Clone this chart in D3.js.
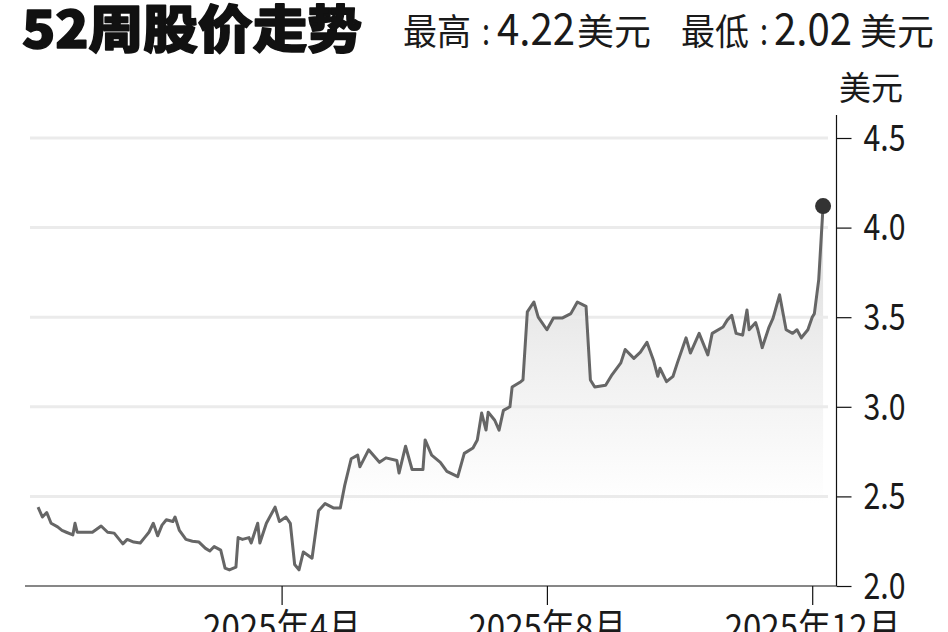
<!DOCTYPE html>
<html>
<head>
<meta charset="utf-8">
<script src="https://cdn.jsdelivr.net/npm/d3@7"></script>
<style>
  html, body { margin: 0; padding: 0; background: #ffffff; overflow: hidden; }
  svg { display: block; }
</style>
</head>
<body>
<svg id="chart" width="948" height="632"></svg>
<script>
// ---- data ----
const titleText = "52周股价走势";
const highParts = ["最高", ":", "4.22", "美元"];
const lowParts = ["最低", ":", "2.02", "美元"];
const unitText = "美元";

const dates = [
"2024-12-10","2024-12-12","2024-12-14","2024-12-16","2024-12-19","2024-12-21","2024-12-23","2024-12-26","2024-12-27","2024-12-28",
"2025-01-01","2025-01-04","2025-01-08","2025-01-11","2025-01-14","2025-01-18","2025-01-20","2025-01-23","2025-01-26","2025-01-28","2025-01-30",
"2025-02-01","2025-02-03","2025-02-05","2025-02-07","2025-02-10","2025-02-11","2025-02-13","2025-02-16","2025-02-19","2025-02-22","2025-02-25","2025-02-27",
"2025-03-01","2025-03-04","2025-03-06","2025-03-08","2025-03-11","2025-03-12","2025-03-14","2025-03-17","2025-03-18","2025-03-21","2025-03-22","2025-03-25","2025-03-29","2025-03-31",
"2025-04-03","2025-04-05","2025-04-07","2025-04-09","2025-04-11","2025-04-15","2025-04-18","2025-04-21","2025-04-25","2025-04-28","2025-04-30",
"2025-05-03","2025-05-06","2025-05-07","2025-05-11","2025-05-16","2025-05-19","2025-05-24","2025-05-25","2025-05-28","2025-05-31",
"2025-06-05","2025-06-06","2025-06-09","2025-06-13","2025-06-16","2025-06-21","2025-06-24","2025-06-28","2025-06-30",
"2025-07-02","2025-07-04","2025-07-05","2025-07-08","2025-07-10","2025-07-12","2025-07-15","2025-07-16","2025-07-20","2025-07-21","2025-07-23","2025-07-26","2025-07-28",
"2025-08-01","2025-08-04","2025-08-08","2025-08-12","2025-08-15","2025-08-19","2025-08-21","2025-08-23","2025-08-28","2025-08-31",
"2025-09-04","2025-09-06","2025-09-10","2025-09-13","2025-09-16","2025-09-19","2025-09-21","2025-09-22","2025-09-25","2025-09-28","2025-09-30",
"2025-10-04","2025-10-06","2025-10-10","2025-10-14","2025-10-16","2025-10-21","2025-10-23","2025-10-25","2025-10-27","2025-10-30",
"2025-11-01","2025-11-02","2025-11-05","2025-11-06","2025-11-08","2025-11-11","2025-11-13","2025-11-16","2025-11-19","2025-11-22","2025-11-24","2025-11-26","2025-11-29",
"2025-12-01","2025-12-02","2025-12-04","2025-12-06"
];

const prices = [
2.44,2.385,2.41,2.35,2.33,2.31,2.30,2.285,2.35,2.30,
2.30,2.30,2.335,2.30,2.295,2.235,2.26,2.245,2.24,2.27,2.30,
2.35,2.28,2.34,2.37,2.36,2.385,2.31,2.26,2.25,2.245,2.21,2.195,
2.22,2.20,2.10,2.09,2.105,2.27,2.26,2.27,2.24,2.35,2.24,2.35,2.44,2.36,
2.385,2.35,2.12,2.09,2.19,2.155,2.42,2.46,2.435,2.435,2.56,
2.71,2.73,2.665,2.76,2.69,2.715,2.70,2.63,2.78,2.65,
2.65,2.815,2.73,2.69,2.64,2.61,2.74,2.77,2.815,
2.965,2.87,2.97,2.925,2.87,2.98,3.00,3.11,3.14,3.15,3.53,3.585,3.50,
3.43,3.495,3.495,3.52,3.585,3.56,3.15,3.11,3.12,3.18,
3.245,3.32,3.27,3.305,3.36,3.26,3.17,3.215,3.14,3.17,3.245,
3.385,3.30,3.41,3.29,3.41,3.445,3.485,3.51,3.41,3.40,
3.54,3.43,3.47,3.43,3.33,3.44,3.495,3.625,3.43,3.41,3.43,3.385,3.43,
3.50,3.52,3.71,4.12
];

const yTickValues = [2.0, 2.5, 3.0, 3.5, 4.0, 4.5];
const yTickLabels = ["2.0", "2.5", "3.0", "3.5", "4.0", "4.5"];
const xTickDates = ["2025-04-01", "2025-08-01", "2025-12-01"];
const xTickLabels = ["2025年4月", "2025年8月", "2025年12月"];

// ---- setup ----
const parse = d3.timeParse("%Y-%m-%d");
const data = dates.map((d, i) => ({ date: parse(d), value: prices[i] }));

const svg = d3.select("#chart");
const font = "'Noto Sans CJK SC', 'Liberation Sans', sans-serif";
const ink = "#1a1a1a";

const x = d3.scaleTime()
  .domain([parse("2024-12-04"), parse("2025-12-17")])
  .range([25, 847]);
const y = d3.scaleLinear().domain([2.0, 4.5]).range([586, 138]);

const axisX = 836.5;

// gradient for area
const defs = svg.append("defs");
const grad = defs.append("linearGradient")
  .attr("id", "areaGrad")
  .attr("gradientUnits", "userSpaceOnUse")
  .attr("x1", 0).attr("x2", 0)
  .attr("y1", y(4.1)).attr("y2", y(2.0));
grad.append("stop").attr("offset", "0%").attr("stop-color", "#dadada");
grad.append("stop").attr("offset", "40%").attr("stop-color", "#efefef");
grad.append("stop").attr("offset", "78%").attr("stop-color", "#ffffff");
grad.append("stop").attr("offset", "100%").attr("stop-color", "#ffffff");

// area
const area = d3.area()
  .x(d => x(d.date))
  .y0(y(2.0))
  .y1(d => y(d.value));
svg.append("path")
  .datum(data)
  .attr("d", area)
  .attr("fill", "url(#areaGrad)");

// gridlines
svg.append("g")
  .selectAll("line")
  .data(yTickValues.filter(v => v > 2.0))
  .join("line")
  .attr("x1", 30).attr("x2", 828)
  .attr("y1", d => y(d)).attr("y2", d => y(d))
  .attr("stroke", "#ebebeb")
  .attr("stroke-width", 3);

// line
const line = d3.line()
  .x(d => x(d.date))
  .y(d => y(d.value));
svg.append("path")
  .datum(data)
  .attr("d", line)
  .attr("fill", "none")
  .attr("stroke", "#666666")
  .attr("stroke-width", 3)
  .attr("stroke-linejoin", "round");

// end point
const last = data[data.length - 1];
svg.append("circle")
  .attr("cx", x(last.date))
  .attr("cy", y(last.value))
  .attr("r", 8)
  .attr("fill", "#333333");

// x axis
const xAxis = d3.axisBottom(x)
  .tickValues(xTickDates.map(parse))
  .tickSize(19)
  .tickFormat((d, i) => xTickLabels[i]);
const gx = svg.append("g").attr("transform", "translate(0,586)").call(xAxis);
gx.select(".domain").remove();
gx.selectAll(".tick line").attr("stroke", "#111").attr("stroke-width", 1.2);
gx.selectAll(".tick text")
  .attr("y", 55).attr("dy", 0)
  .attr("fill", ink)
  .attr("textLength", (d, i) => xTickLabels[i].length > 7 ? 176 : 158)
  .attr("lengthAdjust", "spacingAndGlyphs")
  .style("font-family", font)
  .style("font-size", "37px");
svg.append("line")
  .attr("x1", 25).attr("x2", axisX)
  .attr("y1", 586).attr("y2", 586)
  .attr("stroke", "#111").attr("stroke-width", 1.2);

// y axis
const yAxis = d3.axisRight(y)
  .tickValues(yTickValues)
  .tickSize(15)
  .tickPadding(12)
  .tickFormat((d, i) => yTickLabels[i]);
const gy = svg.append("g").attr("transform", `translate(${axisX},0)`).call(yAxis);
gy.select(".domain").remove();
gy.selectAll(".tick line").attr("stroke", "#111").attr("stroke-width", 1.2);
gy.selectAll(".tick text")
  .attr("dy", "0.33em")
  .attr("fill", ink)
  .attr("textLength", 42)
  .attr("lengthAdjust", "spacingAndGlyphs")
  .style("font-family", font)
  .style("font-size", "37px");
svg.append("line")
  .attr("x1", axisX).attr("x2", axisX)
  .attr("y1", 115).attr("y2", 586)
  .attr("stroke", "#111").attr("stroke-width", 1.2);

// unit label
svg.append("text")
  .attr("x", 839).attr("y", 100)
  .attr("fill", ink)
  .attr("textLength", 64)
  .attr("lengthAdjust", "spacingAndGlyphs")
  .style("font-family", font)
  .style("font-size", "33px")
  .text(unitText);

// title
svg.append("text")
  .attr("x", 22).attr("y", 48)
  .attr("textLength", 340)
  .attr("lengthAdjust", "spacingAndGlyphs")
  .attr("fill", "#111")
  .attr("stroke", "#111")
  .attr("stroke-width", 1.6)
  .attr("stroke-linejoin", "round")
  .style("font-family", font)
  .style("font-weight", 900)
  .style("font-size", "51px")
  .text(titleText);

// subtitle pieces
function drawSub(parts, xs, ws, sizes) {
  const g = svg.append("g");
  parts.forEach((p, i) => {
    g.append("text")
      .attr("x", xs[i]).attr("y", 45)
      .attr("fill", ink)
      .attr("textLength", ws[i])
      .attr("lengthAdjust", "spacingAndGlyphs")
      .style("font-family", font)
      .style("font-size", sizes[i] + "px")
      .text(p);
  });
}
drawSub(highParts, [403, 482, 497, 577], [68, 8, 78, 74], [36, 36, 44, 36]);
drawSub(lowParts, [681, 760, 774, 860], [68, 8, 78, 74], [36, 36, 44, 36]);
</script>
</body>
</html>
